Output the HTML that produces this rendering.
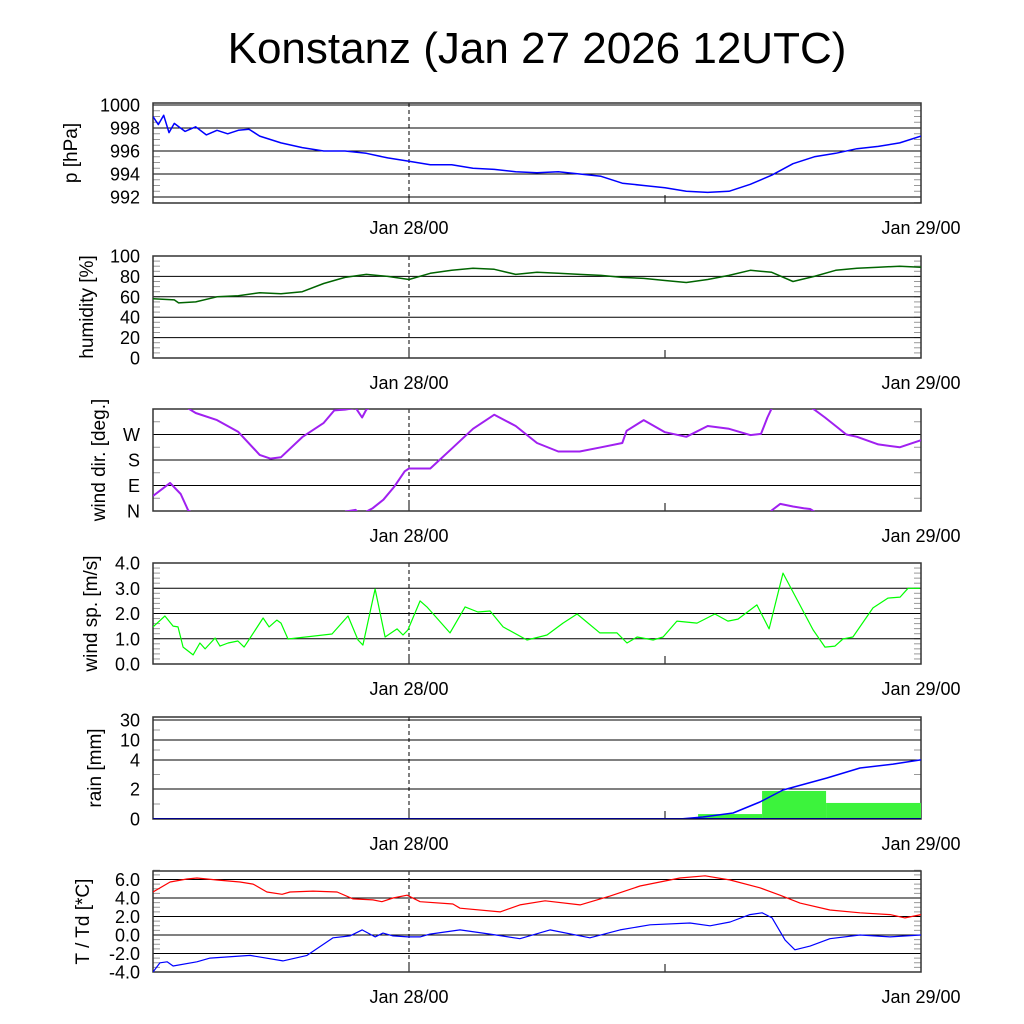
<!DOCTYPE html>
<html><head><meta charset="utf-8"><style>
html,body{margin:0;padding:0;background:#fff;}
svg{display:block;font-family:"Liberation Sans",sans-serif;}
</style></head><body>
<svg id="chart" width="1024" height="1024" viewBox="0 0 1024 1024">
<text x="537" y="63" font-size="44" text-anchor="middle" fill="#000">Konstanz (Jan 27 2026 12UTC)</text>
</svg>
<script>
// ---- data (time in hours since Jan 27 12UTC) ----
const pTimes = [0,0.25,0.5,0.75,1,1.5,2,2.5,3,3.5,4,4.5,5,6,7,8,9,10,11,12,13,14,15,16,17,18,19,20,21,22,23,24,25,26,27,28,29,30,31,32,33,34,35,36];
const pVals = [999.0,998.3,999.1,997.6,998.4,997.7,998.1,997.4,997.8,997.5,997.8,997.9,997.3,996.7,996.3,996.0,996.0,995.8,995.4,995.1,994.8,994.8,994.5,994.4,994.2,994.1,994.2,994.0,993.8,993.2,993.0,992.8,992.5,992.4,992.5,993.1,993.9,994.9,995.5,995.8,996.2,996.4,996.7,997.3];
const hTimes = [0,1,1.2,2,3,4,5,6,7,8,9,10,11,12,13,14,15,16,17,18,19,20,21,22,23,24,25,26,27,28,29,30,31,32,33,34,35,36];
const hVals = [58,57,54,55,60,61,64,63,65,73,79,82,80,77,83,86,88,87,82,84,83,82,81,79,78,76,74,77,81,86,84,75,80,86,88,89,90,89];
const dTimes = [0,0.8,1.3,1.65,2,3,4,5,5.5,6,7,8,8.5,9,9.5,9.8,10,10.3,10.8,11.3,11.8,12,13,14,15,16,17,18,19,20,21,22,22.2,23,24,25,26,27,28,28.5,28.8,29,29.4,30,30.5,30.8,31,31.5,32,32.5,33,34,35,36];
const dVals = [53,99,60,2,346,321,279,198,185,190,261,311,355,358,4,330,358,10,40,85,140,150,150,220,290,340,300,240,210,210,225,240,283,321,278,262,300,290,268,272,330,2,25,16,10,7,358,330,300,270,262,235,225,250];
const sTimes = [0,0.56,0.94,1.17,1.41,1.88,2.2,2.44,2.91,3.14,3.52,3.98,4.27,4.55,5.16,5.44,5.81,6.0,6.33,8.39,9.14,9.61,9.84,10.41,10.88,11.44,11.72,11.95,12.52,12.84,13.92,14.63,15.23,15.8,16.41,17.53,18.47,19.22,19.88,20.95,21.75,22.22,22.69,23.44,23.91,24.56,25.5,26.34,26.95,27.42,28.31,28.88,29.53,30.0,30.94,31.5,31.97,32.34,32.81,33.75,34.45,35.02,35.39,35.95];
const sVals = [1.47,1.9,1.5,1.47,0.67,0.36,0.83,0.6,1.03,0.71,0.83,0.91,0.67,1.03,1.82,1.47,1.74,1.62,0.99,1.19,1.9,0.95,0.75,2.97,1.07,1.39,1.15,1.35,2.5,2.26,1.23,2.26,2.06,2.1,1.47,0.95,1.15,1.62,1.98,1.23,1.23,0.83,1.07,0.95,1.07,1.7,1.62,1.98,1.7,1.78,2.34,1.39,3.6,2.85,1.35,0.67,0.71,0.99,1.07,2.22,2.61,2.65,3.0,3.0];
const rainBarStart = [25.55,28.55,31.55];
const rainBarEnd = [28.55,31.55,36];
const rainBarVals = [0.33,1.87,1.07];
const rainSumTimes = [0,24.7,25.78,27.19,28.45,29.53,31.59,33.14,34.69,35.95,36];
const rainSumVals = [0,0,0.13,0.4,1.13,1.93,2.76,3.45,3.72,4.0,4.0];
const tTimes = [0,0.8,1.59,2.06,3.0,4.08,4.69,5.34,6.05,6.42,7.5,8.63,9.38,10.31,10.73,11.25,11.91,12.52,14.06,14.39,16.27,17.2,18.38,20.02,21.42,22.83,24.7,25.88,27.05,28.45,29.39,30.33,31.73,33.14,34.55,35.25,36];
const tVals = [4.65,5.73,6.05,6.16,5.95,5.73,5.5,4.65,4.4,4.65,4.75,4.65,3.9,3.8,3.6,4.0,4.3,3.6,3.35,2.9,2.5,3.25,3.7,3.25,4.2,5.3,6.16,6.4,5.95,5.1,4.3,3.45,2.7,2.4,2.2,1.85,2.2];
const tdTimes = [0,0.33,0.66,0.94,2.06,2.67,4.55,6.09,7.22,8.44,9.23,9.8,10.41,10.78,11.25,11.95,12.52,12.98,14.39,15.8,17.2,18.61,20.48,21.89,23.3,25.17,26.11,27.05,27.98,28.55,29.02,29.63,30.09,30.8,31.73,33.14,34.55,36];
const tdVals = [-4,-3.0,-2.9,-3.35,-2.9,-2.5,-2.2,-2.8,-2.2,-0.3,-0.1,0.55,-0.2,0.2,-0.1,-0.2,-0.2,0.1,0.55,0.1,-0.4,0.55,-0.3,0.55,1.1,1.3,1.0,1.4,2.2,2.4,1.85,-0.55,-1.6,-1.2,-0.4,0,-0.2,0];
const xLabels = ["Jan 28/00","Jan 29/00"];
const xLabelHours = [12,36];

const NS = "http://www.w3.org/2000/svg";
const svg = document.getElementById('chart');
const X0 = 153, X1 = 921, HOURS = 36;
const xs = t => X0 + t / HOURS * (X1 - X0);
function mk(tag, attrs, parent) {
  const e = document.createElementNS(NS, tag);
  for (const k in attrs) e.setAttribute(k, attrs[k]);
  (parent || svg).appendChild(e);
  return e;
}
let clipN = 0;
function panel(name, top, bot, ys, majors, majorLabels, minors, title, titleX) {
  const g = mk('g', {});
  
  
  const cid = 'clip' + (clipN++);
  const cp = mk('clipPath', {id: cid}, g);
  mk('rect', {x: X0, y: top, width: X1 - X0, height: bot - top}, cp);
  minors.forEach(v => {
    const y = ys(v);
    const a = mk('line', {x1: X0, x2: X0 + 7, y1: y, y2: y, stroke: '#999', 'stroke-width': 1}, g);
    
    
    const b = mk('line', {x1: X1 - 7, x2: X1, y1: y, y2: y, stroke: '#999', 'stroke-width': 1}, g);
    
    
  });
  majors.forEach((v, i) => {
    const y = ys(v);
    const l = mk('line', {x1: X0, x2: X1, y1: y, y2: y, stroke: '#000', 'stroke-width': 1}, g);
    
    
    const t = mk('text', {x: 140, y: y + 6.5, 'font-size': 18, 'text-anchor': 'end', fill: '#000'}, g);
    t.textContent = majorLabels[i];
    
    
  });
  const d = mk('line', {x1: xs(12), x2: xs(12), y1: top, y2: bot, stroke: '#000', 'stroke-width': 1, 'stroke-dasharray': '4,3'}, g);
  
  
  [12, 24].forEach(h => {
    const tk = mk('line', {x1: xs(h), x2: xs(h), y1: bot - 8, y2: bot, stroke: '#000', 'stroke-width': 1}, g);
    
    
  });
  const fr = mk('rect', {x: X0, y: top, width: X1 - X0, height: bot - top, fill: 'none', stroke: '#333', 'stroke-width': 1.5}, g);
  
  
  xLabels.forEach((s, i) => {
    const t = mk('text', {x: xs(xLabelHours[i]), y: bot + 31, 'font-size': 18, 'text-anchor': 'middle', fill: '#000'}, g);
    t.textContent = s;
    
    
  });
  const cy = (top + bot) / 2;
  const yt = mk('text', {x: titleX, y: cy, 'font-size': 19, 'text-anchor': 'middle', fill: '#000', transform: `rotate(-90 ${titleX} ${cy})`}, g);
  yt.textContent = title;
  
  
  const inner = mk('g', {'clip-path': `url(#${cid})`}, g);
  return inner;
}
function line(g, times, vals, ys, color, w, name) {
  const pts = times.map((t, i) => xs(t).toFixed(1) + ',' + ys(vals[i]).toFixed(1)).join(' ');
  const p = mk('polyline', {points: pts, fill: 'none', stroke: color, 'stroke-width': w, 'stroke-linejoin': 'round'}, g);
  
  
}
function range(a, b, s) { const r = []; for (let v = a; v <= b + 1e-9; v += s) r.push(+v.toFixed(3)); return r; }

// pressure
{
  const ys = v => 197 - (v - 992) * 11.5;
  const g = panel('pressure', 103, 203, ys, [992,994,996,998,1000], ['992','994','996','998','1000'], range(991.5, 1000, 0.5), 'p [hPa]', 77);
  line(g, pTimes, pVals, ys, '#0000ff', 1.5, 'pressure-line');
}
// humidity
{
  const ys = v => 358 - v * 1.02;
  const g = panel('humidity', 256, 358, ys, [0,20,40,60,80,100], ['0','20','40','60','80','100'], range(0, 100, 5), 'humidity [%]', 93);
  line(g, hTimes, hVals, ys, '#006400', 1.5, 'humidity-line');
}
// wind direction
{
  const ys = v => 511 - v * 102 / 360;
  const g = panel('wind-direction', 409, 511, ys, [0,90,180,270], ['N','E','S','W'], range(0, 360, 45), 'wind dir. [deg.]', 105);
  let segT = [dTimes[0]], segV = [dVals[0]];
  const segs = [];
  for (let i = 1; i < dTimes.length; i++) {
    const a = dVals[i - 1], b = dVals[i];
    if (Math.abs(b - a) > 180) {
      const b2 = b > a ? b - 360 : b + 360;
      segT.push(dTimes[i]); segV.push(b2);
      segs.push([segT, segV]);
      const a2 = b > a ? a + 360 : a - 360;
      segT = [dTimes[i - 1], dTimes[i]]; segV = [a2, b];
    } else { segT.push(dTimes[i]); segV.push(b); }
  }
  segs.push([segT, segV]);
  segs.forEach(s => line(g, s[0], s[1], ys, '#a020f0', 2, 'wind-direction-line'));
}
// wind speed
{
  const ys = v => 664 - v * 25.25;
  const g = panel('wind-speed', 563, 664, ys, [0,1,2,3,4], ['0.0','1.0','2.0','3.0','4.0'], range(0, 4, 0.2), 'wind sp. [m/s]', 97);
  line(g, sTimes, sVals, ys, '#00ff00', 1.2, 'wind-speed-line');
}
// rain
{
  const rv = [0, 2, 4, 10, 30], ry = [819, 789, 760, 740, 720];
  const ys = v => { for (let i = 1; i < rv.length; i++) if (v <= rv[i]) return ry[i-1] + (v - rv[i-1]) / (rv[i] - rv[i-1]) * (ry[i] - ry[i-1]); return 720 - (v - 30); };
  const g = panel('rain', 717, 819, ys, [0,2,4,10,30], ['0','2','4','10','30'], [1,3,7,20], 'rain [mm]', 101);
  rainBarVals.forEach((v, i) => {
    const r = mk('rect', {x: xs(rainBarStart[i]), y: ys(v), width: xs(rainBarEnd[i]) - xs(rainBarStart[i]), height: 819 - ys(v), fill: '#3cf33c'}, g);
    
    
  });
  line(g, rainSumTimes, rainSumVals, ys, '#0000ff', 1.5, 'rain-sum-line');
  const base = mk('line', {x1: X0, x2: X1, y1: 819, y2: 819, stroke: '#00008b', 'stroke-width': 2}, g);
  
  
}
// temperature
{
  const ys = v => 935 - v * 9.25;
  const g = panel('temperature', 871, 972, ys, [-4,-2,0,2,4,6], ['-4.0','-2.0','0.0','2.0','4.0','6.0'], range(-4, 7, 0.5), 'T / Td [*C]', 89);
  line(g, tTimes, tVals, ys, '#ff0000', 1.2, 'temperature-line');
  line(g, tdTimes, tdVals, ys, '#0000ff', 1.2, 'dewpoint-line');
}
</script>
</body></html>
